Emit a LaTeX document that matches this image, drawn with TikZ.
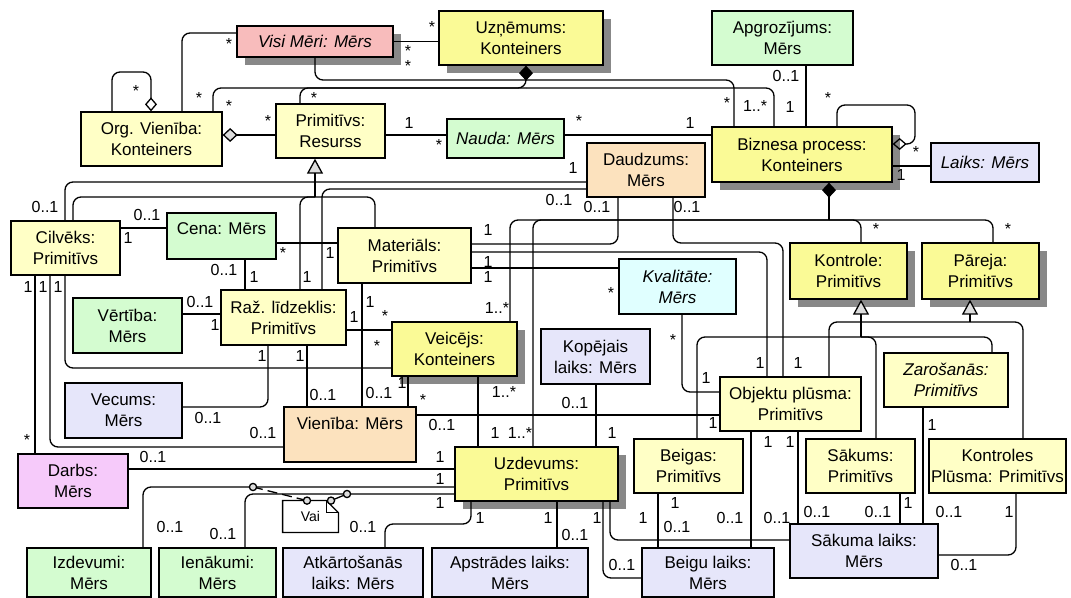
\documentclass[tikz,border=0pt]{standalone}
\usepackage{fontspec}
\setmainfont{Liberation Sans}
\usetikzlibrary{arrows.meta,shadows}
\definecolor{umlyellow}{RGB}{250,250,150}
\definecolor{umlpale}{RGB}{255,255,198}
\definecolor{umlgreen}{RGB}{212,252,208}
\definecolor{umllav}{RGB}{230,230,250}
\definecolor{umlpeach}{RGB}{252,226,190}
\definecolor{umlpink}{RGB}{248,188,188}
\definecolor{umlmag}{RGB}{246,202,250}
\definecolor{umlcyan}{RGB}{224,255,255}
\definecolor{umlshadow}{RGB}{136,136,136}
\definecolor{umltip}{RGB}{220,220,220}

\begin{document}
\begin{tikzpicture}[x=0.5pt,y=-0.5pt,
  cls/.style={draw,line width=0.65pt,align=center,inner sep=1pt,font=\fontsize{8.5}{10.5}\selectfont},
  it/.style={font=\fontsize{8.5}{10.5}\selectfont\itshape},
  shd/.style={drop shadow={shadow xshift=4pt,shadow yshift=-4pt,fill=umlshadow,opacity=1}},
  assoc/.style={line width=0.65pt,rounded corners=4pt},
  mult/.style={font=\fontsize{8}{9}\selectfont,inner sep=0pt},
  comp/.style={{Diamond[length=7.5pt,width=7pt]}-},
  gen/.style={{Triangle[fill=umltip,length=7.5pt,width=8pt]}-}]
  \useasboundingbox (0,0) rectangle (1071,598);

  % klases
  \node[cls,shd,fill=umlpink,it,minimum width=78pt,minimum height=15.5pt] (visi) at (315,41.5) {Visi Mēri: Mērs};
  \node[cls,shd,fill=umlyellow,minimum width=82pt,minimum height=27pt] (uzn) at (521,38) {Uzņēmums:\\Konteiners};
  \node[cls,fill=umlgreen,minimum width=70.5pt,minimum height=27pt] (apgr) at (782.5,38) {Apgrozījums:\\Mērs};
  \node[cls,fill=umlpale,minimum width=70.5pt,minimum height=27pt] (org) at (151.5,139) {Org. Vienība:\\Konteiners};
  \node[cls,fill=umlpale,minimum width=54.5pt,minimum height=27pt] (prim) at (330.5,131) {Primitīvs:\\Resurss};
  \node[cls,fill=umlgreen,it,minimum width=58.5pt,minimum height=19.5pt] (nauda) at (505.5,138.5) {Nauda: Mērs};
  \node[cls,shd,fill=umlyellow,minimum width=90pt,minimum height=27.5pt] (bizn) at (802,154.5) {Biznesa process:\\Konteiners};
  \node[cls,fill=umllav,it,minimum width=54pt,minimum height=19.5pt] (laiks) at (985,162.5) {Laiks: Mērs};
  \node[cls,fill=umlpeach,minimum width=59pt,minimum height=27pt] (daudz) at (646,170) {Daudzums:\\Mērs};
  \node[cls,fill=umlpale,minimum width=54.5pt,minimum height=27pt] (cilv) at (65.5,248) {Cilvēks:\\Primitīvs};
  \node[cls,fill=umlgreen,minimum width=54.5pt,minimum height=23pt,text height=7pt,text depth=8pt] (cena) at (221.5,236) {Cena: Mērs};
  \node[cls,fill=umlpale,minimum width=66.5pt,minimum height=27.5pt] (mat) at (404.5,255.5) {Materiāls:\\Primitīvs};
  \node[cls,fill=umlcyan,it,minimum width=58.5pt,minimum height=27.5pt] (kval) at (677.5,286.5) {Kvalitāte:\\Mērs};
  \node[cls,shd,fill=umlyellow,minimum width=58.5pt,minimum height=28pt] (kontr) at (848.5,271) {Kontrole:\\Primitīvs};
  \node[cls,shd,fill=umlyellow,minimum width=58.5pt,minimum height=28pt] (parej) at (980.5,271) {Pāreja:\\Primitīvs};
  \node[cls,fill=umlgreen,minimum width=54.5pt,minimum height=27.5pt] (vert) at (127.5,325.5) {Vērtība:\\Mērs};
  \node[cls,fill=umlpale,minimum width=62.5pt,minimum height=27.5pt] (raz) at (283.5,317.5) {Raž. līdzeklis:\\Primitīvs};
  \node[cls,shd,fill=umlyellow,minimum width=62.5pt,minimum height=27pt] (veic) at (454.5,349) {Veicējs:\\Konteiners};
  \node[cls,fill=umllav,minimum width=54.5pt,minimum height=27.5pt] (kop) at (595.5,356.5) {Kopējais\\laiks: Mērs};
  \node[cls,fill=umlpale,it,minimum width=62pt,minimum height=27pt] (zaro) at (946,380) {Zarošanās:\\Primitīvs};
  \node[cls,fill=umlpale,minimum width=70.5pt,minimum height=27pt] (obj) at (790.5,404) {Objektu plūsma:\\Primitīvs};
  \node[cls,fill=umllav,minimum width=58.5pt,minimum height=27.5pt] (vec) at (123.5,410.5) {Vecums:\\Mērs};
  \node[cls,fill=umlpeach,minimum width=66pt,minimum height=27.5pt,text height=7pt,text depth=11.5pt] (vien) at (350,434.5) {Vienība: Mērs};
  \node[cls,fill=umlmag,minimum width=55pt,minimum height=27pt] (darbs) at (73,481) {Darbs:\\Mērs};
  \node[cls,shd,fill=umlyellow,minimum width=81.5pt,minimum height=27pt] (uzd) at (536.5,474) {Uzdevums:\\Primitīvs};
  \node[cls,fill=umlpale,minimum width=54.5pt,minimum height=27pt] (beig) at (688.5,466) {Beigas:\\Primitīvs};
  \node[cls,fill=umlpale,minimum width=54.5pt,minimum height=27pt] (sak) at (860.5,466) {Sākums:\\Primitīvs};
  \node[cls,fill=umlpale,minimum width=66.5pt,minimum height=27pt] (kplus) at (997.5,466) {Kontroles\\Plūsma: Primitīvs};
  \node[cls,fill=umllav,minimum width=74pt,minimum height=27pt] (saklaiks) at (864,551) {Sākuma laiks:\\Mērs};
  \node[cls,fill=umlgreen,minimum width=62pt,minimum height=24.5pt] (izd) at (89,572.5) {Izdevumi:\\Mērs};
  \node[cls,fill=umlgreen,minimum width=58.5pt,minimum height=24.5pt] (ien) at (217.5,572.5) {Ienākumi:\\Mērs};
  \node[cls,fill=umllav,minimum width=70pt,minimum height=24.5pt] (atk) at (353,572.5) {Atkārtošanās\\laiks: Mērs};
  \node[cls,fill=umllav,minimum width=78pt,minimum height=24.5pt] (apst) at (510,572.5) {Apstrādes laiks:\\Mērs};
  \node[cls,fill=umllav,minimum width=66pt,minimum height=24.5pt] (beiglaiks) at (708,572.5) {Beigu laiks:\\Mērs};
  \node[inner sep=0pt,minimum width=27.5pt,minimum height=15.5pt,font=\fontsize{7}{8}\selectfont] (vai) at (310.5,516.5) {Vai};
  \draw[line width=0.65pt,fill=white] (vai.north west) -- ([xshift=-6pt]vai.north east) -- ([yshift=-6pt]vai.north east) -- (vai.south east) -- (vai.south west) -- cycle;
  \draw[line width=0.65pt] ([xshift=-6pt]vai.north east) -- ([xshift=-6pt,yshift=-6pt]vai.north east) -- ([yshift=-6pt]vai.north east);
  \node[font=\fontsize{7}{8}\selectfont] at (vai) {Vai};

  % augsa
  \draw[assoc] (visi.west |- 0,33) -- (182,33) -- (org.north -| 182,0);
  \draw[assoc,-{Diamond[open,length=7pt,width=6pt]}] (org.north -| 112,0) -- (112,72) -- (151,72) -- (org.north -| 151,0);
  \draw[assoc,{Diamond[fill=umltip,length=7.5pt,width=7pt]}-] (org.east |- 0,135) -- (prim.west |- 0,135);
  \coordinate (uznj) at (526,88);
  \draw[assoc,comp] (uzn.south -| 526,0) -- (uznj) -- (213,88) -- (org.north -| 213,0);
  \draw[assoc] (uznj) -- (300,88) -- (prim.north -| 300,0);
  \draw[assoc] (uznj) -- (774,88) -- (bizn.north -| 774,0);
  \draw[assoc] (visi.south) -- (315,80) -- (734,80) -- (bizn.north -| 734,0);
  \draw[assoc] (visi.east) -- (uzn.west |- visi.east);
  \draw[assoc] (apgr.south -| 806,0) -- (bizn.north -| 806,0);
  \draw[assoc,-{Diamond[open,length=7pt,width=6pt]}] (bizn.north -| 837,0) -- (837,105) -- (915,105) -- (915,144) -- (bizn.east |- 0,144);
  \draw[assoc] (bizn.east |- 0,166) -- (laiks.west |- 0,166);
  \draw[assoc] (prim.east |- 0,135) -- (nauda.west |- 0,135);
  \draw[assoc] (nauda.east |- 0,135) -- (bizn.west |- 0,135);

  % vidus
  \draw[assoc] (daudz.west |- 0,182) -- (65,182) -- (cilv.north -| 65,0);
  \draw[assoc] (daudz.west |- 0,189) -- (322,189) -- (raz.north -| 322,0);
  \coordinate (primj) at (315,197);
  \draw[assoc,gen] (prim.south -| 315,0) -- (primj);
  \draw[assoc] (primj) -- (73,197) -- (cilv.north -| 73,0);
  \draw[assoc] (primj) -- (300,197) -- (raz.north -| 300,0);
  \draw[assoc] (primj) -- (375,197) -- (mat.north -| 375,0);
  \draw[assoc] (cilv.east |- 0,228) -- (cena.west |- 0,228);
  \draw[assoc] (cena.east |- 0,243) -- (mat.west |- 0,243);
  \draw[assoc] (cena.south -| 245,0) -- (raz.north -| 245,0);
  \draw[assoc] (vert.east |- 0,314) -- (raz.west |- 0,314);
  \draw[assoc] (cilv.south -| 35,0) -- (darbs.north -| 35,0);
  \draw[assoc] (cilv.south -| 50,0) -- (50,447) -- (vien.west |- 0,447);
  \draw[assoc] (cilv.south -| 65,0) -- (65,368) -- (veic.west |- 0,368);
  \draw[assoc] (raz.east |- 0,330) -- (veic.west |- 0,330);
  \draw[assoc] (mat.south -| 362,0) -- (vien.north -| 362,0);
  \draw[assoc] (raz.south -| 307,0) -- (vien.north -| 307,0);
  \draw[assoc] (raz.south -| 268,0) -- (268,407) -- (vec.east |- 0,407);
  \draw[assoc] (veic.south -| 408,0) -- (vien.north -| 408,0);
  \draw[assoc] (veic.south -| 478,0) -- (uzd.north -| 478,0);
  \coordinate (biznj) at (829,220);
  \draw[assoc,comp] (bizn.south -| 829,0) -- (biznj);
  \draw[assoc] (biznj) -- (510,220) -- (veic.north -| 510,0);
  \draw[assoc] (biznj) -- (533,220) -- (uzd.north -| 533,0);
  \draw[assoc] (biznj) -- (861,220) -- (kontr.north -| 861,0);
  \draw[assoc] (biznj) -- (993,220) -- (parej.north -| 993,0);
  \draw[assoc] (mat.east |- 0,244) -- (618,244) -- (daudz.south -| 618,0);
  \draw[assoc] (mat.east |- 0,252) -- (767,252) -- (obj.north -| 767,0);
  \draw[assoc] (daudz.south -| 673,0) -- (673,243) -- (783,243) -- (obj.north -| 783,0);
  \draw[assoc] (mat.east |- 0,268) -- (kval.west |- 0,268);
  \draw[assoc] (kval.south -| 682,0) -- (682,392) -- (obj.west |- 0,392);
  \draw[assoc] (vien.east |- 0,415) -- (obj.west |- 0,415);
  \draw[assoc] (kop.south -| 596,0) -- (uzd.north -| 596,0);
  \coordinate (kontrj) at (861,337);
  \draw[assoc,gen] (kontr.south -| 861,0) -- (kontrj);
  \draw[assoc] (kontrj) -- (697,337) -- (beig.north -| 697,0);
  \draw[assoc] (kontrj) -- (876,337) -- (sak.north -| 876,0);
  \draw[assoc] (kontrj) -- (992,337) -- (zaro.north -| 992,0);
  \coordinate (parejj) at (970,322);
  \draw[assoc,gen] (parej.south -| 970,0) -- (parejj);
  \draw[assoc] (parejj) -- (829,322) -- (obj.north -| 829,0);
  \draw[assoc] (parejj) -- (1023,322) -- (kplus.north -| 1023,0);

  % apaksa
  \draw[assoc] (darbs.east |- 0,469) -- (uzd.west |- 0,469);
  \draw[assoc] (izd.north -| 143,0) -- (143,487) -- (uzd.west |- 0,487);
  \draw[assoc] (ien.north -| 245,0) -- (245,494) -- (uzd.west |- 0,494);
  \draw[assoc] (uzd.south -| 471,0) -- (471,524) -- (385,524) -- (atk.north -| 385,0);
  \draw[assoc] (uzd.south -| 557,0) -- (apst.north -| 557,0);
  \draw[assoc] (uzd.south -| 603,0) -- (603,578) -- (beiglaiks.west |- 0,578);
  \draw[assoc] (uzd.south -| 610,0) -- (610,540) -- (saklaiks.west |- 0,540);
  \draw[assoc] (beig.south -| 658,0) -- (beiglaiks.north -| 658,0);
  \draw[assoc] (obj.south -| 751,0) -- (beiglaiks.north -| 751,0);
  \draw[assoc] (obj.south -| 798,0) -- (saklaiks.north -| 798,0);
  \draw[assoc] (sak.south -| 900,0) -- (saklaiks.north -| 900,0);
  \draw[assoc] (zaro.south -| 923,0) -- (saklaiks.north -| 923,0);
  \draw[assoc] (kplus.south -| 1016,0) -- (1016,555) -- (saklaiks.east |- 0,555);

  % Vai ierobezojums
  \coordinate (vai1) at (253,487);
  \coordinate (vai2) at (vai.north west -| 307,0);
  \coordinate (vai3) at (vai.north west -| 331,0);
  \coordinate (vai4) at (347,494);
  \draw[line width=0.65pt,dash pattern=on 5pt off 2.5pt] (vai1) -- (vai2);
  \draw[line width=0.65pt] (vai3) -- (vai4);
  \foreach \c in {vai1,vai2,vai3,vai4}
    \draw[line width=0.65pt,fill=umltip] (\c) circle[radius=1.8pt];

  % kardinalitates
  \foreach \x/\y [count=\i] in {229/41, 199/95, 229/103, 136/88, 268/118, 314/95, 432/24, 408/48,
      408/63, 439/142, 579/118, 727/100, 828/95, 916/149, 283/250, 611/290, 385/313, 377/343,
      423/397, 27/437, 673/337, 876/226, 1008/226}
    \node[mult,yshift=-1.5pt] (s\i) at (\x,\y) {*};
  \foreach \x/\y/\t [count=\i] in {409/123/1, 690/123/1, 573/168/1, 559/200/0..1, 597/207/0..1,
      687/207/0..1, 786/76/0..1, 755/106/1..*, 790/107/1, 901/175/1,
      45/207/0..1, 147/215/0..1, 128/238/1, 330/253/1, 224/270/0..1, 254/277/1, 307/277/1,
      200/302/0..1, 215/325/1, 28/287/1, 43/287/1, 58/287/1, 488/230/1, 488/262/1, 488/277/1,
      370/302/1, 354/317/1, 497/308/1..*, 379/393/0..1, 402/383/1, 504/392/1..*, 323/395/0..1,
      262/356/1, 300/356/1, 208/418/0..1, 263/433/0..1, 153/457/0..1, 442/425/0..1, 495/433/1,
      520/433/1..*, 612/433/1, 575/403/0..1, 706/378/1, 713/423/1, 760/363/1, 798/363/1, 932/425/1,
      440/457/1, 440/479/1, 440/503/1, 170/527/0..1, 223/534/0..1, 480/518/1, 363/527/0..1,
      548/518/1, 575/535/0..1, 597/518/1, 622/565/0..1, 643/518/1, 675/503/1, 677/527/0..1,
      768/442/1, 790/442/1, 730/518/0..1, 777/518/0..1, 817/512/0..1, 878/512/0..1, 908/503/1,
      949/512/0..1, 1009/512/1, 964/565/0..1}
    \node[mult] (m\i) at (\x,\y) {\t};
\end{tikzpicture}
\end{document}
